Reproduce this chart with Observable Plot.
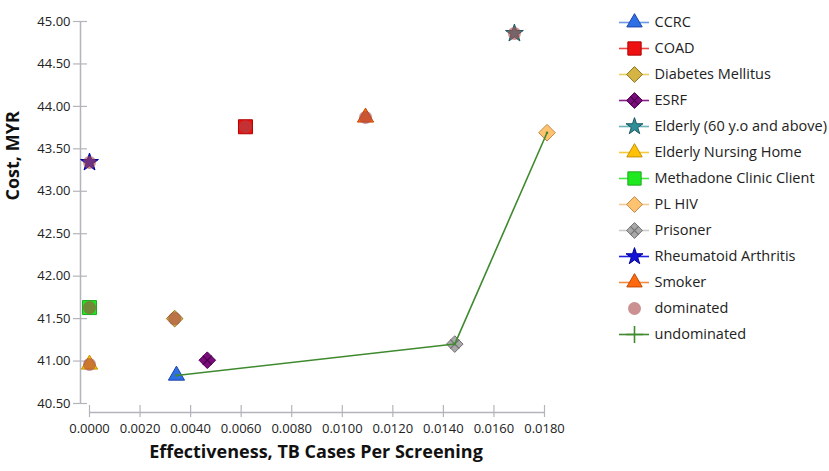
<!DOCTYPE html>
<html><head><meta charset="utf-8">
<script src="https://cdn.jsdelivr.net/npm/d3@7"></script>
<script src="https://cdn.jsdelivr.net/npm/@observablehq/plot@0.6"></script>
<style>
body{margin:0;background:#fff;font-family:"Open Sans",sans-serif}
#wrap{display:flex;align-items:flex-start;width:829px;height:471px;overflow:hidden}
</style></head><body><div id="wrap"></div>
<script>
const strategies = ["CCRC","COAD","Diabetes Mellitus","ESRF","Elderly (60 y.o and above)","Elderly Nursing Home","Methadone Clinic Client","PL HIV","Prisoner","Rheumatoid Arthritis","Smoker"];
const effectiveness = [0.00344,0.00617,0.00337,0.00466,0.01681,0.0,0.0,0.0181,0.01445,0.0,0.01092];
const cost = [40.83,43.76,41.50,41.01,44.86,40.96,41.63,43.69,41.20,43.34,43.87];
const dominated = [false,true,true,false,true,true,true,false,false,true,true];
const patterned = [false,false,false,true,false,false,false,false,true,false,false];
const symbols = ["triangle","square","diamond2","diamond2","star","triangle","square","diamond2","diamond2","star","triangle"];
const fills = ["#2e6fe6","#ee1111","#d4b544","#7a0c7c","#2f8f98","#ffc107","#1ee81e","#ffc271","#a9a9a9","#1414d6","#ff6a10"];
const strokes = ["#1a45a8","#b00000","#8c7320","#4a004c","#1b5a60","#c49000","#22a822","#c08a45","#727272","#00009a","#c04800"];
const lineColors = ["#6a98e6","#ee4444","#e6cf60","#8a208a","#6cb3b9","#f5c93a","#44e644","#f3ca92","#cccccc","#2020e0","#f28a40"];
const undominatedPath = ["CCRC","Prisoner","PL HIV"];
const xTicks = [0,0.002,0.004,0.006,0.008,0.010,0.012,0.014,0.016,0.018];
const yTicks = [40.5,41,41.5,42,42.5,43,43.5,44,44.5,45];
const legendExtra = ["dominated","undominated"];

const symR = {triangle: 6, square: 7.9, diamond2: 7.5, star: 5.6};
const axisColor = "#b4b4bc";
const domColor = "#a8484a";
const undomColor = "#3f8a2e";

const data = strategies.map((name, i) => ({
  name, eff: effectiveness[i], cost: cost[i], dom: dominated[i], pat: patterned[i],
  symbol: symbols[i], fill: fills[i], stroke: strokes[i], line: lineColors[i]
}));
const path = undominatedPath.map(n => data.find(d => d.name === n));

const pointMarks = data.map(d => Plot.dot([d], {
  x: "eff", y: "cost", symbol: d.symbol, r: symR[d.symbol],
  fill: d.fill, stroke: d.stroke, strokeWidth: 1
}));
const patMarks = data.filter(d => d.pat).map(d => Plot.dot([d], {
  x: "eff", y: "cost", symbol: "times", r: 4.2, stroke: d.stroke, strokeWidth: 1.2
}));

const main = Plot.plot({
  width: 600, height: 471,
  marginLeft: 89, marginRight: 56, marginTop: 21, marginBottom: 68,
  x: {domain: [0, 0.018]},
  y: {domain: [40.5, 45]},
  style: {fontFamily: "'Open Sans', sans-serif", fontSize: "13px", color: "#222", background: "white", overflow: "visible"},
  marks: [
    Plot.ruleX([0], {y1: 40.5, y2: 45, dx: -9, stroke: axisColor, strokeWidth: 1.5}),
    Plot.ruleY([40.5], {x1: 0, x2: 0.018, dy: 9, stroke: axisColor, strokeWidth: 1.5}),
    Plot.axisY({ticks: yTicks, tickFormat: d3.format(".2f"), tickSize: 14, dx: -2, tickPadding: 3, stroke: axisColor, strokeWidth: 1.2, fill: "#222", label: null}),
    Plot.axisX({ticks: xTicks, tickFormat: d3.format(".4f"), tickSize: 12, dy: 2, tickPadding: 6, stroke: axisColor, strokeWidth: 1.2, fill: "#222", label: null}),
    ...pointMarks,
    ...patMarks,
    Plot.dot(data.filter(d => d.dom), {x: "eff", y: "cost", r: 6.5, fill: domColor, fillOpacity: 0.6}),
    Plot.line(path, {x: "eff", y: "cost", stroke: undomColor, strokeWidth: 1.6}),
    Plot.dot(path, {x: "eff", y: "cost", r: 1.3, fill: undomColor}),
    Plot.text(["Effectiveness, TB Cases Per Screening"], {frameAnchor: "bottom", dy: 54, dx: -1, text: d => d, fontWeight: "bold", fontSize: 18, fill: "#111"}),
    Plot.text(["Cost, MYR"], {frameAnchor: "left", dx: -76, dy: -12, rotate: -90, text: d => d, fontWeight: "bold", fontSize: 18, fill: "#111"})
  ]
});

const legendItems = [...strategies, ...legendExtra];
const legMarks = data.map(d => Plot.dot([d], {
  x: () => 34, y: "name", symbol: d.symbol, r: symR[d.symbol] * 0.95,
  fill: d.fill, stroke: d.stroke, strokeWidth: 1
}));
const legPat = data.filter(d => d.pat).map(d => Plot.dot([d], {
  x: () => 34, y: "name", symbol: "times", r: 4, stroke: d.stroke, strokeWidth: 1.2
}));
const legend = Plot.plot({
  width: 229, height: 471, margin: 0,
  x: {domain: [0, 229], range: [0, 229], axis: null},
  y: {type: "point", domain: legendItems, range: [16, 339], padding: 0, axis: null},
  style: {fontFamily: "'Open Sans', sans-serif", fontSize: "14.5px", color: "#222", background: "white", overflow: "visible"},
  marks: [
    Plot.ruleY(data, {y: "name", x1: 19, x2: 49, stroke: "line", strokeWidth: 1.6}),
    ...legMarks,
    ...legPat,
    Plot.dot(["dominated"], {x: () => 34, y: d => d, r: 6.5, fill: domColor, fillOpacity: 0.6}),
    Plot.ruleY(["undominated"], {y: d => d, x1: 19, x2: 49, stroke: undomColor, strokeWidth: 1.6}),
    Plot.dot(["undominated"], {x: () => 34, y: d => d, symbol: "plus", r: 5.5, stroke: undomColor, strokeWidth: 1.6}),
    Plot.text(legendItems, {x: () => 54, y: d => d, text: d => d, textAnchor: "start", fill: "#222"})
  ]
});

document.getElementById("wrap").append(main, legend);
</script></body></html>
